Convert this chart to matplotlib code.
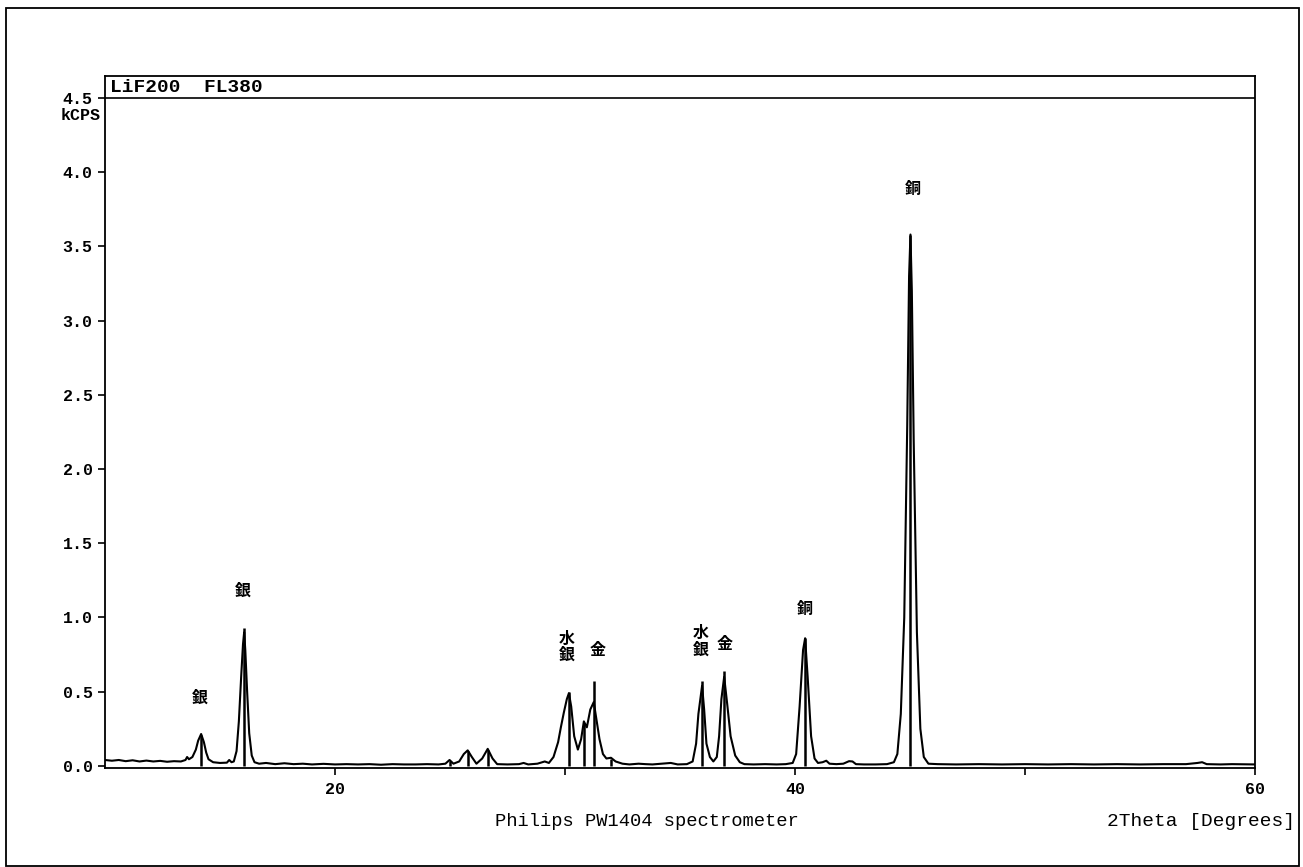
import matplotlib
matplotlib.use("Agg")
import matplotlib.pyplot as plt
from matplotlib.patches import Rectangle

# ---- data ----
two_theta = [10.0, 10.3, 10.6, 10.9, 11.2, 11.5, 11.8, 12.1, 12.4, 12.7, 13.0, 13.3, 13.5, 13.57, 13.65,
             13.8, 13.95, 14.05, 14.18, 14.3, 14.4, 14.5, 14.7, 15.0, 15.3, 15.4, 15.5,
             15.6, 15.72, 15.82, 15.92, 16.0, 16.05, 16.1, 16.18, 16.27, 16.38, 16.5, 16.7,
             17.0, 17.4, 17.8, 18.2, 18.6, 19.0, 19.5, 20.0, 20.5, 21.0, 21.5, 22.0, 22.5, 23.0, 23.5, 24.0, 24.5,
             24.8, 24.98, 25.15, 25.4, 25.6, 25.77, 25.95, 26.15, 26.4, 26.64, 26.85, 27.05,
             27.5, 28.0, 28.2, 28.4, 28.8, 29.12, 29.3, 29.5, 29.7, 29.82, 29.95, 30.08, 30.17, 30.27,
             30.4, 30.56, 30.7, 30.82, 30.95, 31.1, 31.25, 31.38, 31.5, 31.65, 31.8, 32.0, 32.2, 32.5,
             32.8, 33.2, 33.5, 33.8, 34.2, 34.6, 34.9, 35.3, 35.55, 35.7, 35.8, 35.9, 35.96, 36.05,
             36.15, 36.3, 36.45, 36.6, 36.7, 36.8, 36.92, 37.05, 37.2, 37.4, 37.6, 37.8,
             38.2, 38.7, 39.2, 39.6, 39.9, 40.05, 40.2, 40.35, 40.44, 40.55, 40.7, 40.85, 41.0,
             41.2, 41.36, 41.5, 41.8, 42.1, 42.35, 42.5, 42.65, 43.0, 43.5, 44.0, 44.3,
             44.45, 44.6, 44.75, 44.88, 44.96, 45.02, 45.08, 45.16, 45.3, 45.45, 45.6, 45.8,
             46.2, 47.0, 48.0, 49.0, 50.0, 51.0, 52.0, 53.0, 54.0, 55.0, 56.0, 57.0, 57.5, 57.7, 57.9, 58.5, 59.0, 60.0]
kcps = [0.040, 0.035, 0.040, 0.032, 0.038, 0.030, 0.036, 0.030, 0.034, 0.028, 0.032, 0.030, 0.040, 0.060, 0.045,
        0.060, 0.110, 0.170, 0.215, 0.160, 0.090, 0.045, 0.025, 0.020, 0.022, 0.040, 0.025,
        0.030, 0.100, 0.300, 0.600, 0.820, 0.900, 0.780, 0.500, 0.220, 0.070, 0.025, 0.015,
        0.020, 0.012, 0.018, 0.012, 0.015, 0.010, 0.014, 0.010, 0.012, 0.010, 0.012, 0.008, 0.012, 0.010, 0.010, 0.012, 0.010,
        0.015, 0.040, 0.015, 0.030, 0.080, 0.105, 0.060, 0.015, 0.050, 0.115, 0.050, 0.012,
        0.010, 0.012, 0.020, 0.010, 0.015, 0.030, 0.020, 0.060, 0.160, 0.260, 0.360, 0.450, 0.490, 0.400,
        0.200, 0.110, 0.180, 0.300, 0.260, 0.380, 0.430, 0.300, 0.180, 0.080, 0.050, 0.055, 0.030, 0.015,
        0.010, 0.015, 0.012, 0.010, 0.015, 0.020, 0.010, 0.012, 0.030, 0.150, 0.350, 0.470, 0.540, 0.380,
        0.150, 0.060, 0.030, 0.060, 0.200, 0.450, 0.600, 0.420, 0.200, 0.070, 0.025, 0.012,
        0.010, 0.012, 0.010, 0.012, 0.020, 0.080, 0.400, 0.780, 0.860, 0.600, 0.200, 0.050, 0.020,
        0.025, 0.035, 0.015, 0.012, 0.015, 0.032, 0.030, 0.012, 0.010, 0.010, 0.012, 0.025,
        0.080, 0.350, 1.000, 2.300, 3.300, 3.580, 3.200, 2.200, 0.900, 0.250, 0.060, 0.015,
        0.012, 0.010, 0.012, 0.010, 0.012, 0.010, 0.012, 0.010, 0.012, 0.010, 0.012, 0.012, 0.020, 0.025, 0.012, 0.010, 0.012, 0.010]

# peak marker lines (position, height)
marker_pos = [14.18, 16.05, 24.98, 25.77, 26.64, 30.17, 30.82, 31.25, 32.0, 35.96, 36.92, 40.44, 45.02]
marker_height = [0.21, 0.93, 0.03, 0.10, 0.11, 0.50, 0.28, 0.57, 0.05, 0.57, 0.64, 0.86, 3.58]

# element labels (text, 2theta, kcps)
label_text = ["銀", "銀", "水\n銀", "金", "水\n銀", "金", "銅", "銅"]
label_x = [14.14, 16.0, 30.08, 31.4, 35.9, 36.96, 40.44, 45.1]
label_y = [0.46, 1.18, 0.80, 0.78, 0.84, 0.82, 1.06, 3.89]

y_ticks = [0.0, 0.5, 1.0, 1.5, 2.0, 2.5, 3.0, 3.5, 4.0, 4.5]
x_ticks = [20, 30, 40, 50, 60]
x_ticklabels = ["20", "", "40", "", "60"]

W, H = 1303, 867
fig = plt.figure(figsize=(W / 100, H / 100), dpi=100)
fig.patch.set_facecolor("white")

# outer frame
fig.add_artist(Rectangle((6 / W, 1 / H), (1299 - 6) / W, (866 - 8) / H, transform=fig.transFigure,
                         fill=False, edgecolor="black", linewidth=1.3))

ax = fig.add_axes([105 / W, (H - 768) / H, 1150 / W, (768 - 76) / H])
ax.set_xlim(10, 60)
ax.set_ylim(-0.014, 4.648)

ax.plot(two_theta, kcps, color="black", linewidth=1.5)
ax.vlines(marker_pos, 0, marker_height, color="black", linewidth=1.8)

cjk = ["Noto Sans CJK JP", "DejaVu Sans"]
for t, x, y in zip(label_text, label_x, label_y):
    ax.text(x, y, t, ha="center", va="center", fontsize=11.5, fontweight="bold",
            family=cjk, linespacing=1.0)

# header line and text
ax.axhline(4.5, color="black", linewidth=1.2)
ax.text(0.004, 4.515, "LiF200  FL380", transform=ax.get_yaxis_transform(), ha="left", va="bottom",
        fontsize=14, fontweight="bold", family="Liberation Mono")

mono = "Liberation Mono"
ax.set_yticks(y_ticks)
ax.set_yticklabels([f"{v:.1f}" for v in y_ticks], family=mono, fontsize=12, fontweight="bold")
ax.set_xticks(x_ticks)
ax.set_xticklabels(x_ticklabels, family=mono, fontsize=12, fontweight="bold")
ax.tick_params(axis="both", direction="out", length=5, width=1.2, colors="black")
ax.tick_params(axis="x", pad=5)
ax.tick_params(axis="y", pad=4)
ax.text(-0.004, 4.385, "kCPS", transform=ax.get_yaxis_transform(), ha="right", va="center",
        fontsize=12, fontweight="bold", family=mono)

for s in ax.spines.values():
    s.set_linewidth(1.3)

fig.text(647 / W, 1 - 822 / H, "Philips PW1404 spectrometer", ha="center", va="center",
         fontsize=13.5, family=mono)
fig.text(1295 / W, 1 - 822 / H, "2Theta [Degrees]", ha="right", va="center",
         fontsize=14, family=mono)

fig.savefig("out.png", dpi=100, facecolor="white")
